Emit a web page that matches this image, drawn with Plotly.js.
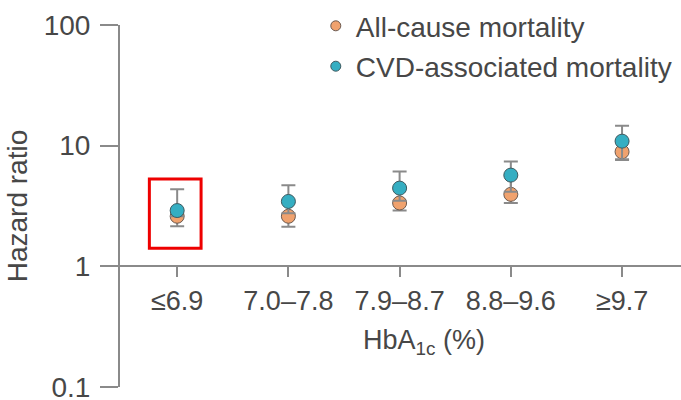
<!DOCTYPE html>
<html>
<head>
<meta charset="utf-8">
<script src="https://cdn.plot.ly/plotly-3.0.1.min.js"></script>
<style>html,body{margin:0;padding:0;background:#fff;}#chart{width:681px;height:400px;}</style>
</head>
<body>
<div id="chart"></div>
<script>
// HbA1c categories
var categories = ["≤6.9", "7.0–7.8", "7.9–8.7", "8.8–9.6", "≥9.7"];

// All-cause mortality hazard ratios with CI
var allCauseHR    = [2.6, 2.6, 3.35, 3.95, 8.9];
var allCauseLower = [2.15, 2.13, 2.9, 3.35, 7.6];
var allCauseUpper = [2.9, 3.4, 4.4, 5.6, 10.8];

// CVD-associated mortality hazard ratios with CI
var cvdHR    = [2.9, 3.45, 4.45, 5.7, 10.9];
var cvdLower = [2.6, 2.75, 3.5, 4.15, 7.7];
var cvdUpper = [4.35, 4.7, 6.1, 7.4, 14.6];

var yTickVals = [0.1, 1, 10, 100];
var yTickText = ["0.1", "1", "10", "100"];

function plus(hr, up) { return hr.map(function (v, i) { return up[i] - v; }); }
function minus(hr, lo) { return hr.map(function (v, i) { return v - lo[i]; }); }

var textColor = "#474747";
var axisColor = "#8a8a8a";
var orange = "#F0A26E";
var teal = "#35AEC2";
var font = "Liberation Sans, Arial, sans-serif";

var traces = [
  {
    x: categories, y: allCauseHR, type: "scatter", mode: "markers",
    name: "All-cause mortality", showlegend: false,
    marker: { color: orange, size: 14, line: { color: "#6b5a50", width: 1 } },
    error_y: { type: "data", symmetric: false, array: plus(allCauseHR, allCauseUpper),
      arrayminus: minus(allCauseHR, allCauseLower), color: axisColor, thickness: 2, width: 7 }
  },
  {
    x: categories, y: cvdHR, type: "scatter", mode: "markers",
    name: "CVD-associated mortality", showlegend: false,
    marker: { color: teal, size: 14, line: { color: "#3f5a60", width: 1 } },
    error_y: { type: "data", symmetric: false, array: plus(cvdHR, cvdUpper),
      arrayminus: minus(cvdHR, cvdLower), color: axisColor, thickness: 2, width: 7 }
  },
  {
    x: [null], y: [null], type: "scatter", mode: "markers",
    name: "All-cause mortality", legendgroup: "a",
    marker: { color: orange, size: 10, line: { color: "#6b5a50", width: 1 } }
  },
  {
    x: [null], y: [null], type: "scatter", mode: "markers",
    name: "CVD-associated mortality", legendgroup: "b",
    marker: { color: teal, size: 10, line: { color: "#3f5a60", width: 1 } }
  }
];

var layout = {
  width: 681, height: 400,
  margin: { l: 120, r: 0, t: 25, b: 13, pad: 0, autoexpand: false },
  paper_bgcolor: "#fff", plot_bgcolor: "#fff",
  font: { family: font, size: 27, color: textColor },
  showlegend: true,
  legend: {
    x: 0.349, xanchor: "left", y: 1.066, yanchor: "top",
    font: { family: font, size: 28, color: textColor },
    traceorder: "grouped", tracegroupgap: 1, bgcolor: "rgba(0,0,0,0)"
  },
  xaxis: {
    type: "category", range: [-0.514, 4.53],
    anchor: "free", position: 1 / 3,
    showline: true, linecolor: axisColor, linewidth: 2,
    ticks: "outside", ticklen: 10, tickwidth: 2, tickcolor: axisColor,
    showgrid: false, zeroline: false,
    tickfont: { family: font, size: 27, color: textColor }
  },
  yaxis: {
    type: "log", range: [-1, 2],
    tickvals: yTickVals, ticktext: yTickText,
    showline: true, linecolor: axisColor, linewidth: 2,
    ticks: "outside", ticklen: 18, tickwidth: 2, tickcolor: axisColor,
    ticklabelstandoff: 4, ticklabeloverflow: "allow",
    showgrid: false, zeroline: false,
    tickfont: { family: font, size: 28, color: textColor },
    title: { text: "Hazard ratio", font: { family: font, size: 28, color: textColor }, standoff: 8 }
  },
  annotations: [
    { xref: "paper", yref: "paper", x: 0.541, y: 0.124, xanchor: "center", yanchor: "middle",
      text: "HbA<sub>1c</sub> (%)", showarrow: false,
      font: { family: font, size: 27, color: textColor } }
  ],
  shapes: [
    { type: "rect", xref: "x", yref: "y", x0: -0.25, x1: 0.215, y0: 1.41, y1: 5.3,
      line: { color: "#ee0000", width: 3 }, fillcolor: "rgba(0,0,0,0)" }
  ]
};

Plotly.newPlot("chart", traces, layout, { displayModeBar: false, staticPlot: true });
</script>
</body>
</html>
